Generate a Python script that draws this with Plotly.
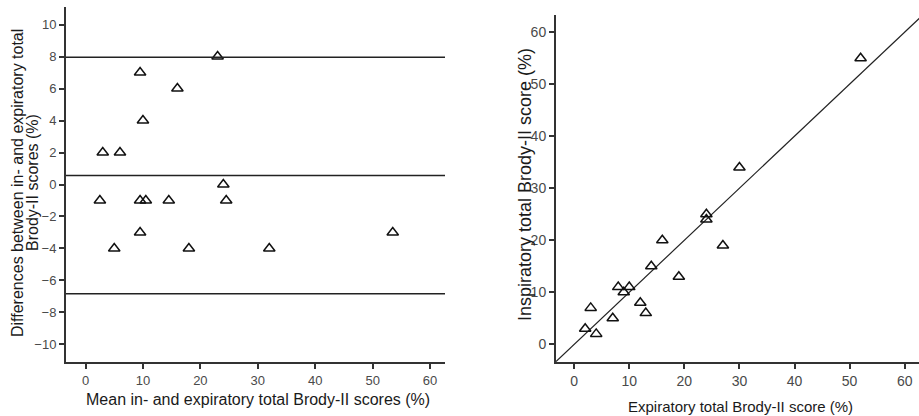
import plotly.graph_objects as go

# Data: expiratory / inspiratory total Brody-II scores (%)
expiratory = [2, 3, 4, 7, 8, 9, 10, 12, 13, 14, 16, 19, 24, 24, 27, 30, 52]
inspiratory = [3, 7, 2, 5, 11, 10, 11, 8, 6, 15, 20, 13, 25, 24, 19, 34, 55]

# Bland-Altman: mean and difference (expiratory - inspiratory)
ba_mean = [2.5, 5, 3, 6, 9.5, 9.5, 10.5, 10, 9.5, 14.5, 18, 16, 24.5, 24, 23, 32, 53.5]
ba_diff = [-1, -4, 2, 2, -3, -1, -1, 4, 7, -1, -4, 6, -1, 0, 8, -4, -3]

# Reference lines on Bland-Altman plot: upper limit, mean, lower limit
ba_lines = [7.95, 0.56, -6.83]

left_xticks = [0, 10, 20, 30, 40, 50, 60]
left_yticks = [-10, -8, -6, -4, -2, 0, 2, 4, 6, 8, 10]
right_ticks = [0, 10, 20, 30, 40, 50, 60]
identity = [-3.3, 62.7]

W, H = 919, 416
LEFT_TICKFONT = dict(family="Liberation Sans, Arial", size=13, color="#4a4a4a")
RIGHT_TICKFONT = dict(family="Liberation Sans, Arial", size=14, color="#4a4a4a")
TITLE = "#1a1a1a"

fig = go.Figure()

fig.add_trace(go.Scatter(
    x=ba_mean, y=ba_diff, mode="markers", xaxis="x", yaxis="y",
    marker=dict(symbol="triangle-up-open", size=10, color="#111111", line=dict(width=1.5)),
    showlegend=False))

fig.add_trace(go.Scatter(
    x=identity, y=identity, mode="lines", xaxis="x2", yaxis="y2",
    line=dict(color="#222222", width=1.2), showlegend=False))

fig.add_trace(go.Scatter(
    x=expiratory, y=inspiratory, mode="markers", xaxis="x2", yaxis="y2",
    marker=dict(symbol="triangle-up-open", size=10, color="#111111", line=dict(width=1.5)),
    showlegend=False))

for v in ba_lines:
    fig.add_shape(type="line", xref="x domain", yref="y", x0=0, x1=1, y0=v, y1=v,
                  line=dict(color="#222222", width=1.5))

axis_common = dict(showline=True, linecolor="#333333", linewidth=2, ticks="outside",
                   ticklen=5, tickwidth=1.5, tickcolor="#333333", showgrid=False,
                   zeroline=False, automargin=False, mirror=False)

fig.update_layout(
    width=W, height=H, margin=dict(l=0, r=0, t=0, b=0),
    paper_bgcolor="white", plot_bgcolor="white",
    xaxis=dict(domain=[66 / W, 445 / W], range=[-3.4, 62.6], tickvals=left_xticks,
               anchor="y", tickfont=LEFT_TICKFONT, **axis_common),
    yaxis=dict(domain=[(H - 362) / H, (H - 7) / H], range=[-11.1, 11.1], tickvals=left_yticks,
               anchor="x", tickfont=LEFT_TICKFONT, **axis_common),
    xaxis2=dict(domain=[556 / W, 1.0], range=[-3.3, 62.6], tickvals=right_ticks,
                anchor="y2", tickfont=RIGHT_TICKFONT, **axis_common),
    yaxis2=dict(domain=[(H - 362) / H, (H - 15) / H], range=[-3.4, 63.3], tickvals=right_ticks,
                anchor="x2", tickfont=RIGHT_TICKFONT, **axis_common),
)

annotations = [
    dict(text="Mean in- and expiratory total Brody-II scores (%)", x=258 / W, y=(H - 399) / H,
         textangle=0, font=dict(family="Liberation Sans, Arial", size=16, color=TITLE)),
    dict(text="Differences between in- and expiratory total",
         x=17 / W, y=(H - 183) / H, textangle=-90,
         font=dict(family="Liberation Sans, Arial", size=16, color=TITLE)),
    dict(text="Brody-II scores (%)",
         x=32 / W, y=(H - 183) / H, textangle=-90,
         font=dict(family="Liberation Sans, Arial", size=16, color=TITLE)),
    dict(text="Expiratory total Brody-II score (%)", x=740 / W, y=(H - 406) / H,
         textangle=0, font=dict(family="Liberation Sans, Arial", size=15, color=TITLE)),
    dict(text="Inspiratory total Brody-II score (%)", x=525 / W, y=(H - 185) / H,
         textangle=-90, font=dict(family="Liberation Sans, Arial", size=18, color=TITLE)),
]
for a in annotations:
    fig.add_annotation(xref="paper", yref="paper", showarrow=False, xanchor="center",
                       yanchor="middle", **a)

fig.write_html("out.html")
